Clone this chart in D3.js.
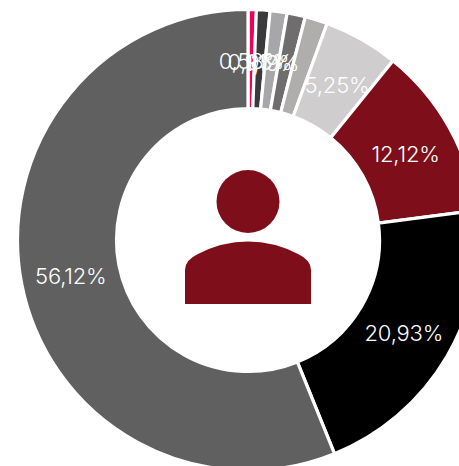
<!DOCTYPE html>
<html><head><meta charset="utf-8">
<script src="https://cdnjs.cloudflare.com/ajax/libs/d3/7.8.5/d3.min.js"></script>
<style>html,body{margin:0;padding:0;background:#fff}svg{display:block}</style></head>
<body><svg width="459" height="466"></svg>
<script>
const values = [0.58,0.95,1.19,1.28,1.58,5.25,12.12,20.93,56.12];
const labels = ["0,58%","0,95%","1,19%","","","5,25%","12,12%","20,93%","56,12%"];
const colors = ["#ee0056","#3a3a3c","#a7a7a9","#6f6d6e","#b0adad","#cfcdcd","#7e0f1a","#000000","#606060"];
const cx=248, cy=240, outerR=230.500, innerR=131.500;
const svg=d3.select("svg");
const g=svg.append("g").attr("transform",`translate(${cx},${cy})`);
const pie=d3.pie().sort(null).value(d=>d)(values);
const arc=d3.arc().innerRadius(innerR).outerRadius(outerR);
const labelArc=d3.arc().innerRadius(180.5).outerRadius(180.5);
g.selectAll("path").data(pie).join("path").attr("d",arc).attr("fill",(d,i)=>colors[i]).attr("stroke","#fff").attr("stroke-width",3.2);
g.selectAll("text").data(pie).join("text")
 .attr("transform",d=>`translate(${labelArc.centroid(d)})`)
 .attr("text-anchor","middle").attr("dy","0.44em")
 .attr("font-family","Inter").attr("font-weight",350).attr("font-size",22).attr("letter-spacing",-0.2)
 .attr("fill","#fff").text((d,i)=>labels[i]);
const icon=svg.append("g").attr("fill","#7e0f1a");
icon.append("circle").attr("cx",248).attr("cy",201.5).attr("r",31.5);
icon.append("path").attr("d","M185 304V270Q185 260 198 254Q222 241.500 248 241.500Q274 241.500 298 254Q311 260 311 270V304Z");
</script></body></html>
